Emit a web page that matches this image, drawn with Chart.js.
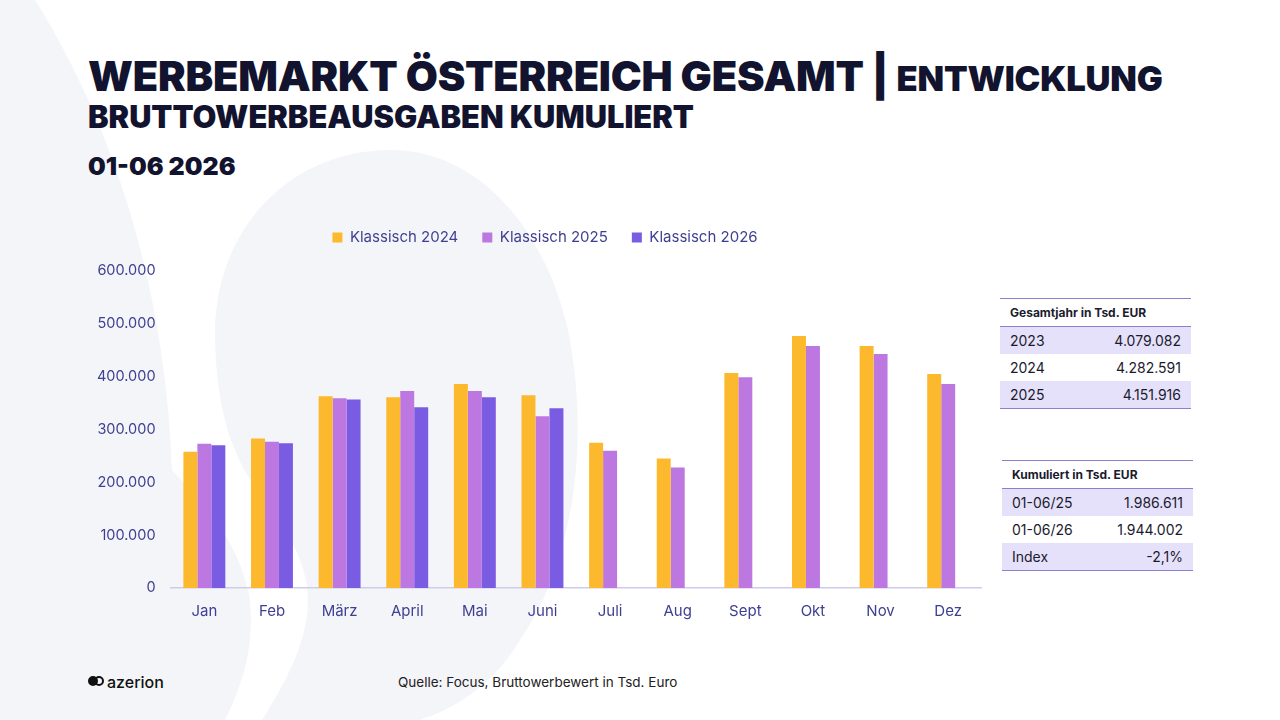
<!DOCTYPE html>
<html lang="de">
<head>
<meta charset="utf-8">
<script src="https://cdn.jsdelivr.net/npm/chart.js@4.4.1/dist/chart.umd.min.js"></script>
<style>
  html, body { margin: 0; padding: 0; }
  body { width: 1280px; height: 720px; position: relative; overflow: hidden; background: #fff; font-family: "Inter", "Open Sans", sans-serif; color: #12132e; }
  #bg { position: absolute; left: 0; top: 0; }
  #chartWrap { position: absolute; left: 90px; top: 206px; width: 892px; height: 420px; }
  .title { position: absolute; left: 88px; top: 51px; font-weight: 900; font-size: 41.5px; letter-spacing: -0.2px; white-space: nowrap; }
  .title small { font-size: 34.6px; }
  .sub { position: absolute; left: 88px; top: 98px; font-weight: 900; font-size: 30.8px; white-space: nowrap; }
  .period { position: absolute; left: 88px; top: 151px; font-weight: 900; font-size: 25px; }
  table { position: absolute; border-collapse: collapse; font-size: 14px; color: #1b1b2e; }
  table th { text-align: left; font-weight: 700; font-size: 12px; padding: 0 10px; height: 27px; border-top: 1px solid #8a80d0; border-bottom: 1px solid #8a80d0; }
  table td { height: 27px; padding: 0 10px; }
  table td.v { text-align: right; }
  table tr.s td { background: #e6e1fa; }
  table tr:last-child td { border-bottom: 1px solid #8a80d0; }
  .logo { position: absolute; left: 88px; top: 672px; font-size: 16px; font-weight: 500; color: #111; display: flex; align-items: center; gap: 3px; }
  .logo i { display: inline-block; width: 16px; height: 14px; position: relative; }
  .logo i:before, .logo i:after { content: ""; position: absolute; top: 1px; width: 10px; height: 10px; border: 2.5px solid #111; border-radius: 50%; box-sizing: border-box; }
  .logo i:before { left: 0; background: #111; }
  .logo i:after { left: 6px; }
  .src { position: absolute; left: 398px; top: 674px; font-size: 13.5px; color: #222; }
</style>
</head>
<body>
<svg id="bg" width="1280" height="720">
  <path d="M0,0 L35,0 C110,120 165,280 172,470 C200,500 240,540 250,600 C255,650 240,690 225,720 L0,720 Z" fill="#f4f5f8"/>
  <path d="M215,340 C212,230 290,150 390,150 C480,150 545,230 568,330 C590,440 575,560 520,640 C490,690 450,710 420,720 L262,720 C300,660 320,610 300,560 C285,520 250,490 235,450 C222,420 216,380 215,340 Z" fill="#f4f5f8"/>
</svg>

<div class="title">WERBEMARKT ÖSTERREICH GESAMT | <small>ENTWICKLUNG</small></div>
<div class="sub">BRUTTOWERBEAUSGABEN KUMULIERT</div>
<div class="period">01-06 2026</div>

<div id="chartWrap"><canvas id="werbeChart"></canvas></div>

<table style="left:1000px; top:298px; width:191px;">
  <tr><th colspan="2">Gesamtjahr in Tsd. EUR</th></tr>
  <tr class="s"><td>2023</td><td class="v">4.079.082</td></tr>
  <tr><td>2024</td><td class="v">4.282.591</td></tr>
  <tr class="s"><td>2025</td><td class="v">4.151.916</td></tr>
</table>

<table style="left:1002px; top:460px; width:191px;">
  <tr><th colspan="2">Kumuliert in Tsd. EUR</th></tr>
  <tr class="s"><td>01-06/25</td><td class="v">1.986.611</td></tr>
  <tr><td>01-06/26</td><td class="v">1.944.002</td></tr>
  <tr class="s"><td>Index</td><td class="v">-2,1%</td></tr>
</table>

<div class="logo"><i></i>azerion</div>
<div class="src">Quelle: Focus, Bruttowerbewert in Tsd. Euro</div>

<script>
// Monate und Werte (Tsd. EUR)
const months = ['Jan', 'Feb', 'März', 'April', 'Mai', 'Juni', 'Juli', 'Aug', 'Sept', 'Okt', 'Nov', 'Dez'];
const klassisch2024 = [258000, 283000, 363000, 361000, 386000, 365000, 275000, 245000, 407000, 477000, 458000, 405000];
const klassisch2025 = [273000, 277000, 359000, 373000, 373000, 325000, 260000, 228000, 399000, 458000, 443000, 386000];
const klassisch2026 = [270000, 274000, 357000, 342000, 361000, 340000, null, null, null, null, null, null];
const yTicks = [0, 100000, 200000, 300000, 400000, 500000, 600000];

const tickColor = '#3e3f92';

function formatDe(v) {
    return String(v).replace(/\B(?=(\d{3})+(?!\d))/g, '.');
}

// more room under the legend, and nudge it a little to the right
const legendTweak = {
    id: 'legendTweak',
    beforeInit(chart) {
        const fit = chart.legend.fit;
        chart.legend.fit = function() {
            fit.bind(chart.legend)();
            this.height += 16;
        };
    },
    afterLayout(chart) {
        chart.legend.left += 9;
        chart.legend.right += 9;
    }
};

document.addEventListener("DOMContentLoaded", function() {
    const ctx = document.getElementById('werbeChart').getContext('2d');
    new Chart(ctx, {
        type: 'bar',
        data: {
            labels: months,
            datasets: [
                { label: 'Klassisch 2024', data: klassisch2024, backgroundColor: '#fdb92e' },
                { label: 'Klassisch 2025', data: klassisch2025, backgroundColor: '#bc78e0' },
                { label: 'Klassisch 2026', data: klassisch2026, backgroundColor: '#7a5ce2' }
            ]
        },
        plugins: [legendTweak],
        options: {
            responsive: true,
            maintainAspectRatio: false,
            animation: false,
            layout: { padding: 0 },
            datasets: { bar: { categoryPercentage: 0.62, barPercentage: 1.0 } },
            plugins: {
                legend: {
                    position: 'top',
                    labels: {
                        boxWidth: 10,
                        boxHeight: 10,
                        padding: 24,
                        color: tickColor,
                        font: { family: 'Inter', size: 15 }
                    }
                },
                tooltip: { enabled: false }
            },
            scales: {
                x: {
                    grid: { display: false },
                    border: { color: '#cfcbea', width: 1.5 },
                    ticks: { color: tickColor, padding: 6, font: { family: 'Inter', size: 15 } }
                },
                y: {
                    min: 0,
                    max: 600000,
                    afterBuildTicks: function(axis) {
                        axis.ticks = yTicks.map(v => ({ value: v }));
                    },
                    grid: { display: false },
                    border: { display: false },
                    ticks: {
                        color: tickColor,
                        padding: 7,
                        font: { family: 'Inter', size: 14.5 },
                        callback: v => formatDe(v)
                    }
                }
            }
        }
    });
});
</script>
</body>
</html>
